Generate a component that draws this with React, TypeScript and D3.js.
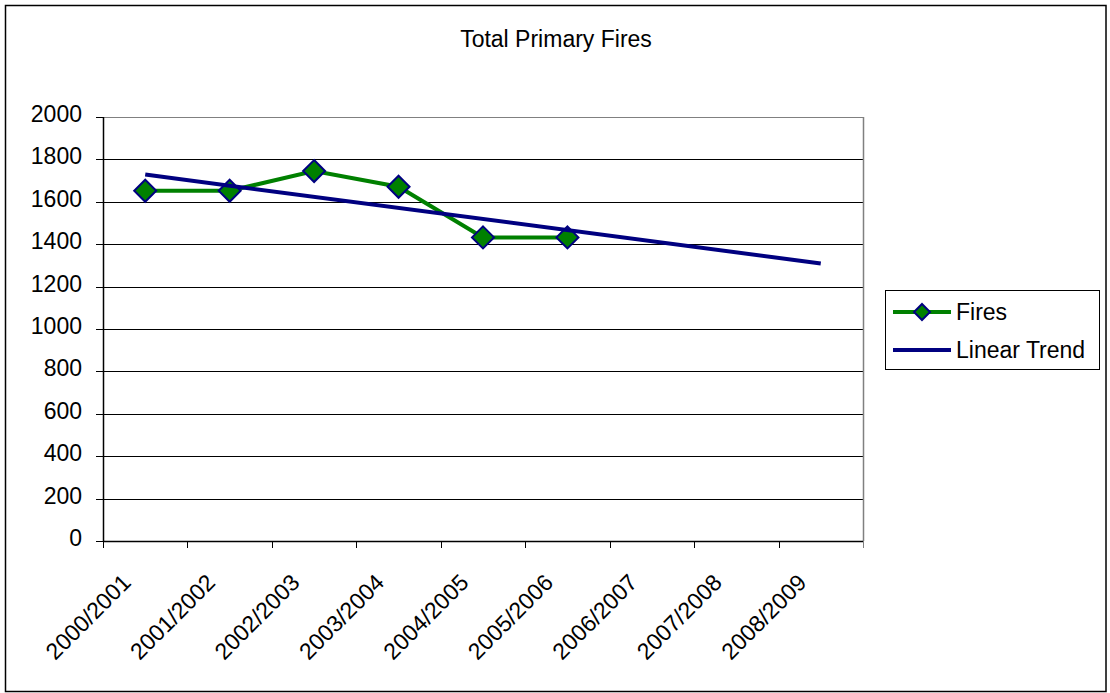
import React from "react";
import * as d3 from "d3";

const title = "Total Primary Fires";
const categories = [
  "2000/2001", "2001/2002", "2002/2003", "2003/2004", "2004/2005",
  "2005/2006", "2006/2007", "2007/2008", "2008/2009",
];
const fires = [1652, 1652, 1745, 1671, 1432, 1432];
const yTicks = [0, 200, 400, 600, 800, 1000, 1200, 1400, 1600, 1800, 2000];
const legendLabels = ["Fires", "Linear Trend"];

const GREEN = "#008000";
const NAVY = "#000080";
const FONT = "Arial, 'Liberation Sans', sans-serif";

export default function App() {
  const W = 1110, H = 693;
  const left = 103, right = 863, top = 117, bottom = 541;

  const x = d3.scaleBand<string>().domain(categories).range([left, right]);
  const y = d3.scaleLinear().domain([0, 2000]).range([bottom, top]);
  const cx = (i: number) => (x(categories[i]) as number) + x.bandwidth() / 2;

  // least-squares linear trend over the fires series, extended to all categories
  const n = fires.length;
  const mx = d3.mean(fires.map((_, i) => i)) as number;
  const my = d3.mean(fires) as number;
  let sxy = 0, sxx = 0;
  fires.forEach((v, i) => { sxy += (i - mx) * (v - my); sxx += (i - mx) * (i - mx); });
  const slope = sxy / sxx;
  const trendAt = (i: number) => my + slope * (i - mx);

  const lineGen = d3.line<[number, number]>().x(d => d[0]).y(d => d[1]);
  const firesPath = lineGen(fires.map((v, i) => [cx(i), y(v)]));
  const trendPath = lineGen([[cx(0), y(trendAt(0))], [cx(categories.length - 1), y(trendAt(categories.length - 1))]]);

  const diamond = (px: number, py: number, r: number) =>
    `M${px},${py - r}L${px + r},${py}L${px},${py + r}L${px - r},${py}Z`;

  const lgX = 885, lgY = 290, lgW = 214, lgH = 79;

  return (
    <svg width={W} height={H} style={{ position: "absolute", left: 0, top: 0 }} fontFamily={FONT}>
      <rect x={0} y={0} width={W} height={H} fill="#fff" />
      <rect x={5.5} y={5.5} width={1100.5} height={686} fill="none" stroke="#000" strokeWidth={1.5} />
      <text x={556} y={47} textAnchor="middle" fontSize={23} fill="#000">{title}</text>

      {/* gridlines */}
      {yTicks.map(t => (
        <line key={"g" + t} x1={left} x2={right} y1={Math.round(y(t)) + 0.5} y2={Math.round(y(t)) + 0.5}
          stroke={t === 2000 ? "#808080" : "#000"} strokeWidth={1} />
      ))}
      {/* plot border right */}
      <line x1={right + 0.5} x2={right + 0.5} y1={top} y2={bottom} stroke="#808080" strokeWidth={1.5} />

      {/* y axis */}
      <line x1={left + 0.5} x2={left + 0.5} y1={top} y2={bottom + 1} stroke="#000" strokeWidth={1.5} />
      {yTicks.map(t => (
        <g key={"y" + t}>
          <line x1={96} x2={left} y1={Math.round(y(t)) + 0.5} y2={Math.round(y(t)) + 0.5} stroke="#000" />
          <text x={82} y={y(t) + 5} textAnchor="end" fontSize={23} fill="#000">{t}</text>
        </g>
      ))}

      {/* x axis */}
      <line x1={left} x2={right} y1={bottom + 0.5} y2={bottom + 0.5} stroke="#000" strokeWidth={1.5} />
      {categories.map((c, i) => (
        <line key={"xt" + c} x1={Math.round(left + i * x.step()) + 0.5} x2={Math.round(left + i * x.step()) + 0.5}
          y1={bottom} y2={548} stroke="#000" />
      ))}
      <line x1={right + 0.5} x2={right + 0.5} y1={bottom} y2={548} stroke="#808080" />
      {categories.map((c, i) => {
        const ax = cx(i) - 13, ay = 584;
        return (
          <text key={"xl" + c} x={ax} y={ay} textAnchor="end" fontSize={23} fill="#000"
            transform={`rotate(-45 ${ax} ${ay})`}>{c}</text>
        );
      })}

      {/* series */}
      <path d={firesPath as string} fill="none" stroke={GREEN} strokeWidth={4} />
      {fires.map((v, i) => (
        <path key={"m" + i} d={diamond(cx(i), y(v), 11)} fill={GREEN} stroke={NAVY} strokeWidth={2} />
      ))}
      <path d={trendPath as string} fill="none" stroke={NAVY} strokeWidth={4} />

      {/* legend */}
      <rect x={lgX + 0.5} y={lgY + 0.5} width={lgW} height={lgH} fill="#fff" stroke="#000" strokeWidth={1} />
      <line x1={893} x2={951} y1={312} y2={312} stroke={GREEN} strokeWidth={4} />
      <path d={diamond(922, 312, 8)} fill={GREEN} stroke={NAVY} strokeWidth={2} />
      <text x={956} y={320} fontSize={23} fill="#000">{legendLabels[0]}</text>
      <line x1={893} x2={951} y1={350} y2={350} stroke={NAVY} strokeWidth={4} />
      <text x={956} y={358} fontSize={23} fill="#000">{legendLabels[1]}</text>
    </svg>
  );
}
